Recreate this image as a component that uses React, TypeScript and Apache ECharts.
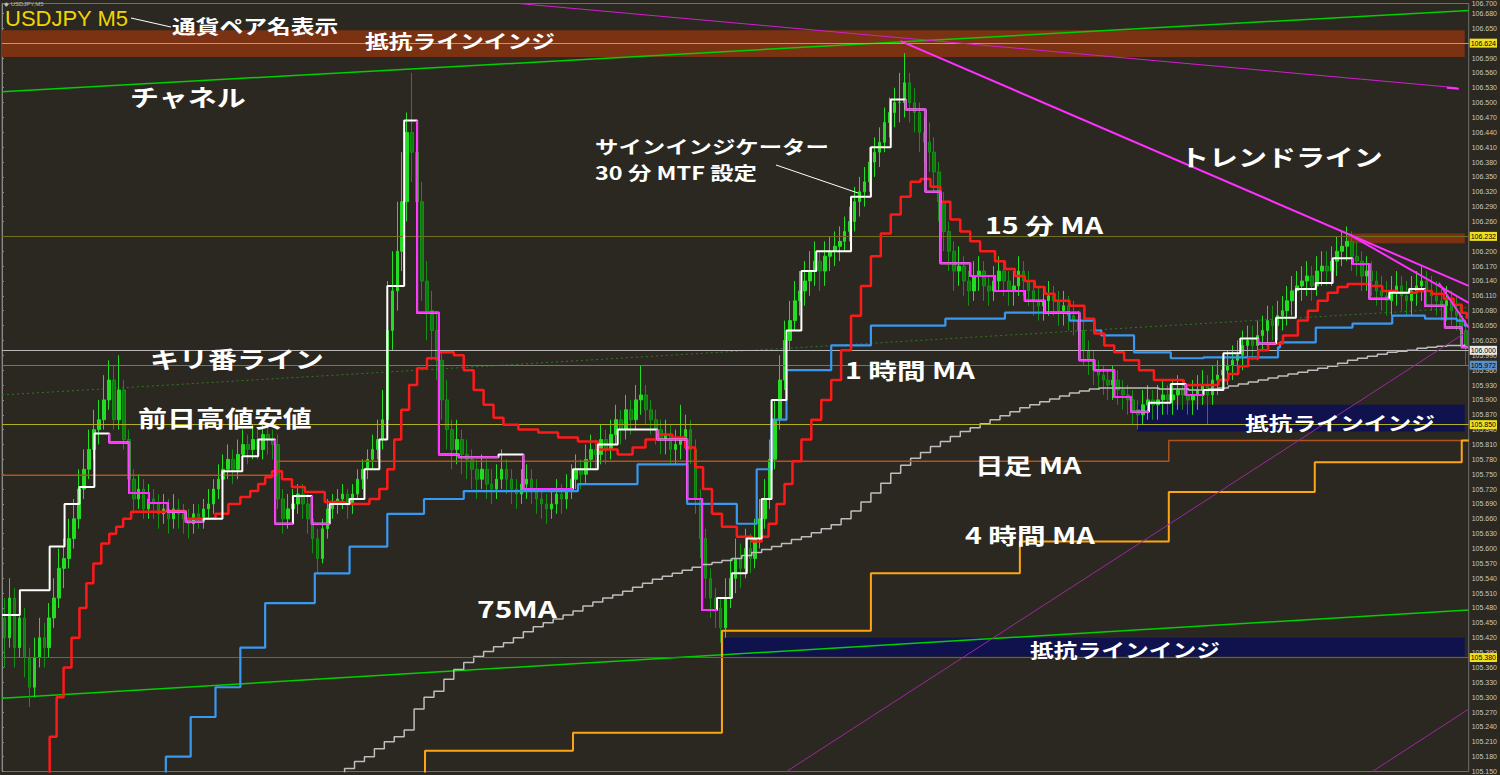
import React, { useEffect, useRef } from "react";
import * as echarts from "echarts";

// ---------- axis / layout constants ----------
const PRICE_MIN = 105.15;
const PRICE_MAX = 106.7;
const PRICE_STEP = 0.03;
const BAR_COUNT = 295;
const X_END = 295.4; // value-axis end (bar units) at right edge of the plot

// ---------- candles: [open, close, low, high] ----------
const candles: number[][] = [
[105.46,105.42,105.36,105.50],[105.42,105.50,105.40,105.54],[105.50,105.40,105.36,105.52],[105.40,105.46,105.38,105.50],[105.46,105.38,105.34,105.48],
[105.38,105.32,105.28,105.40],[105.32,105.38,105.30,105.42],[105.38,105.42,105.36,105.46],[105.42,105.40,105.36,105.45],[105.40,105.46,105.38,105.49],
[105.46,105.50,105.44,105.54],[105.50,105.56,105.48,105.60],[105.56,105.58,105.52,105.62],[105.58,105.62,105.56,105.66],[105.62,105.66,105.60,105.70],
[105.66,105.72,105.64,105.76],[105.72,105.76,105.70,105.80],[105.76,105.80,105.74,105.84],[105.80,105.84,105.78,105.88],[105.84,105.86,105.81,105.90],
[105.86,105.90,105.84,105.95],[105.90,105.94,105.88,105.98],[105.94,105.86,105.84,105.97],[105.86,105.92,105.84,105.99],[105.92,105.82,105.80,105.94],
[105.82,105.74,105.72,105.84],[105.74,105.70,105.67,105.76],[105.70,105.72,105.68,105.75],[105.72,105.68,105.66,105.74],[105.68,105.70,105.66,105.73],
[105.70,105.69,105.66,105.72],[105.69,105.67,105.64,105.71],[105.67,105.68,105.65,105.71],[105.68,105.66,105.63,105.70],[105.66,105.68,105.64,105.71],
[105.68,105.67,105.64,105.70],[105.67,105.66,105.63,105.69],[105.66,105.65,105.62,105.68],[105.65,105.67,105.63,105.69],[105.67,105.66,105.64,105.69],
[105.66,105.68,105.64,105.70],[105.68,105.69,105.66,105.72],[105.69,105.72,105.67,105.74],[105.72,105.74,105.70,105.77],[105.74,105.76,105.72,105.79],
[105.76,105.78,105.74,105.81],[105.78,105.76,105.73,105.80],[105.76,105.79,105.74,105.82],[105.79,105.81,105.77,105.84],[105.81,105.80,105.77,105.83],
[105.80,105.82,105.78,105.85],[105.82,105.80,105.78,105.84],[105.80,105.83,105.78,105.86],[105.83,105.82,105.79,105.85],[105.82,105.81,105.78,105.84],
[105.81,105.70,105.68,105.83],[105.70,105.66,105.63,105.72],[105.66,105.68,105.64,105.71],[105.68,105.69,105.66,105.72],[105.69,105.71,105.67,105.73],
[105.71,105.69,105.66,105.73],[105.69,105.66,105.63,105.71],[105.66,105.62,105.59,105.68],[105.62,105.58,105.55,105.64],[105.58,105.64,105.57,105.66],
[105.64,105.68,105.62,105.70],[105.68,105.69,105.66,105.71],[105.69,105.70,105.67,105.72],[105.70,105.71,105.68,105.73],[105.71,105.69,105.66,105.72],
[105.69,105.71,105.67,105.73],[105.71,105.74,105.70,105.76],[105.74,105.76,105.72,105.78],[105.76,105.78,105.74,105.80],[105.78,105.80,105.76,105.83],
[105.80,105.82,105.78,105.86],[105.82,105.86,105.80,105.92],[105.86,106.04,105.84,106.14],[106.04,106.12,106.00,106.20],[106.12,106.20,106.08,106.30],
[106.20,106.30,106.16,106.40],[106.30,106.44,106.26,106.48],[106.44,106.40,106.34,106.56],[106.40,106.30,106.24,106.44],[106.30,106.14,106.10,106.34],
[106.14,106.08,106.02,106.18],[106.08,106.04,105.98,106.12],[106.04,105.98,105.94,106.08],[105.98,105.90,105.86,106.00],[105.90,105.84,105.80,105.94],
[105.84,105.80,105.76,105.86],[105.80,105.82,105.77,105.86],[105.82,105.79,105.75,105.84],[105.79,105.78,105.74,105.82],[105.78,105.76,105.72,105.80],
[105.76,105.74,105.70,105.78],[105.74,105.76,105.72,105.79],[105.76,105.73,105.70,105.78],[105.73,105.72,105.69,105.76],[105.72,105.74,105.70,105.77],
[105.74,105.76,105.72,105.80],[105.76,105.74,105.71,105.78],[105.74,105.72,105.69,105.76],[105.72,105.71,105.68,105.74],[105.71,105.73,105.69,105.76],
[105.73,105.74,105.70,105.77],[105.74,105.72,105.69,105.76],[105.72,105.70,105.67,105.74],[105.70,105.69,105.66,105.72],[105.69,105.68,105.65,105.71],
[105.68,105.69,105.66,105.72],[105.69,105.71,105.67,105.74],[105.71,105.70,105.67,105.73],[105.70,105.72,105.68,105.75],[105.72,105.74,105.70,105.77],
[105.74,105.76,105.72,105.79],[105.76,105.75,105.72,105.78],[105.75,105.78,105.73,105.81],[105.78,105.80,105.76,105.83],[105.80,105.79,105.76,105.82],
[105.79,105.82,105.77,105.85],[105.82,105.80,105.77,105.84],[105.80,105.83,105.78,105.86],[105.83,105.86,105.81,105.89],[105.86,105.84,105.81,105.88],
[105.84,105.88,105.82,105.91],[105.88,105.86,105.83,105.90],[105.86,105.90,105.84,105.93],[105.90,105.91,105.87,105.97],[105.91,105.88,105.85,105.93],
[105.88,105.86,105.83,105.90],[105.86,105.84,105.81,105.88],[105.84,105.82,105.79,105.86],[105.82,105.83,105.79,105.86],[105.83,105.80,105.77,105.85],
[105.80,105.81,105.77,105.84],[105.81,105.82,105.78,105.89],[105.82,105.84,105.80,105.87],[105.84,105.80,105.77,105.86],[105.80,105.70,105.67,105.82],
[105.70,105.62,105.58,105.72],[105.62,105.54,105.50,105.64],[105.54,105.50,105.46,105.56],[105.50,105.48,105.44,105.52],[105.48,105.44,105.41,105.50],
[105.44,105.50,105.42,105.54],[105.50,105.54,105.48,105.58],[105.54,105.58,105.51,105.62],[105.58,105.56,105.52,105.61],[105.56,105.60,105.54,105.64],
[105.60,105.58,105.55,105.63],[105.58,105.62,105.56,105.66],[105.62,105.66,105.60,105.70],[105.66,105.70,105.64,105.74],[105.70,105.78,105.68,105.82],
[105.78,105.86,105.76,105.90],[105.86,105.94,105.84,105.99],[105.94,106.02,105.92,106.06],[106.02,106.06,106.00,106.10],[106.06,106.10,106.04,106.14],
[106.10,106.12,106.07,106.16],[106.12,106.14,106.09,106.18],[106.14,106.16,106.11,106.20],[106.16,106.18,106.13,106.22],[106.18,106.16,106.12,106.20],
[106.16,106.19,106.13,106.22],[106.19,106.20,106.16,106.23],[106.20,106.21,106.17,106.24],[106.21,106.22,106.18,106.25],[106.22,106.24,106.20,106.27],
[106.24,106.26,106.22,106.29],[106.26,106.30,106.24,106.33],[106.30,106.32,106.27,106.35],[106.32,106.34,106.29,106.37],[106.34,106.38,106.32,106.41],
[106.38,106.40,106.35,106.43],[106.40,106.42,106.37,106.45],[106.42,106.46,106.40,106.49],[106.46,106.48,106.43,106.51],[106.48,106.50,106.45,106.53],
[106.50,106.50,106.46,106.56],[106.50,106.54,106.47,106.60],[106.54,106.50,106.46,106.56],[106.50,106.48,106.44,106.53],[106.48,106.44,106.40,106.50],
[106.44,106.42,106.38,106.47],[106.42,106.40,106.36,106.46],[106.40,106.36,106.32,106.43],[106.36,106.30,106.26,106.38],[106.30,106.24,106.20,106.32],
[106.24,106.20,106.16,106.26],[106.20,106.16,106.12,106.22],[106.16,106.17,106.13,106.21],[106.17,106.14,106.11,106.19],[106.14,106.12,106.09,106.16],
[106.12,106.15,106.10,106.18],[106.15,106.16,106.12,106.19],[106.16,106.13,106.10,106.18],[106.13,106.12,106.09,106.15],[106.12,106.14,106.10,106.17],
[106.14,106.16,106.12,106.19],[106.16,106.14,106.11,106.18],[106.14,106.12,106.09,106.16],[106.12,106.13,106.09,106.16],[106.13,106.16,106.11,106.19],
[106.16,106.14,106.11,106.18],[106.14,106.12,106.09,106.16],[106.12,106.10,106.07,106.14],[106.10,106.09,106.06,106.13],[106.09,106.10,106.06,106.13],
[106.10,106.11,106.07,106.14],[106.11,106.10,106.07,106.13],[106.10,106.08,106.05,106.12],[106.08,106.09,106.05,106.12],[106.09,106.07,106.04,106.11],
[106.07,106.06,106.03,106.10],[106.06,106.04,106.01,106.08],[106.04,106.00,105.97,106.06],[106.00,105.98,105.95,106.02],[105.98,105.96,105.93,106.00],
[105.96,105.95,105.92,105.98],[105.95,105.94,105.91,105.97],[105.94,105.93,105.90,105.96],[105.93,105.94,105.90,105.97],[105.94,105.92,105.89,105.96],
[105.92,105.91,105.88,105.94],[105.91,105.90,105.87,105.93],[105.90,105.88,105.85,105.92],[105.88,105.87,105.84,105.90],[105.87,105.89,105.85,105.92],
[105.89,105.90,105.86,105.93],[105.90,105.89,105.86,105.92],[105.89,105.90,105.86,105.93],[105.90,105.91,105.87,105.94],[105.91,105.90,105.87,105.93],
[105.90,105.91,105.87,105.94],[105.91,105.92,105.88,105.95],[105.92,105.91,105.88,105.94],[105.91,105.90,105.87,105.93],[105.90,105.91,105.87,105.94],
[105.91,105.92,105.88,105.95],[105.92,105.93,105.89,105.96],[105.93,105.91,105.85,105.95],[105.91,105.94,105.89,105.97],[105.94,105.95,105.91,105.98],
[105.95,105.96,105.92,105.99],[105.96,105.97,105.93,106.00],[105.97,105.98,105.94,106.01],[105.98,105.99,105.95,106.02],[105.99,106.01,105.96,106.04],
[106.01,106.02,105.98,106.05],[106.02,106.01,105.98,106.05],[106.01,106.03,105.98,106.06],[106.03,106.04,106.00,106.07],[106.04,106.06,106.01,106.09],
[106.06,106.05,106.02,106.09],[106.05,106.07,106.02,106.10],[106.07,106.08,106.04,106.11],[106.08,106.10,106.05,106.13],[106.10,106.12,106.07,106.15],
[106.12,106.13,106.09,106.16],[106.13,106.14,106.10,106.17],[106.14,106.15,106.11,106.18],[106.15,106.13,106.10,106.17],[106.13,106.16,106.11,106.19],
[106.16,106.17,106.13,106.20],[106.17,106.16,106.13,106.20],[106.16,106.18,106.13,106.21],[106.18,106.20,106.15,106.23],[106.20,106.21,106.17,106.24],
[106.21,106.22,106.18,106.25],[106.22,106.19,106.16,106.24],[106.19,106.18,106.15,106.22],[106.18,106.15,106.12,106.20],[106.15,106.16,106.12,106.19],
[106.16,106.14,106.11,106.18],[106.14,106.12,106.09,106.16],[106.12,106.11,106.08,106.15],[106.11,106.10,106.07,106.14],[106.10,106.12,106.07,106.15],
[106.12,106.13,106.09,106.16],[106.13,106.11,106.08,106.15],[106.11,106.10,106.07,106.14],[106.10,106.12,106.07,106.15],[106.12,106.13,106.09,106.16],
[106.13,106.14,106.10,106.17],[106.14,106.12,106.09,106.16],[106.12,106.11,106.08,106.15],[106.11,106.10,106.07,106.14],[106.10,106.09,106.06,106.13],
[106.09,106.10,106.06,106.13],[106.10,106.08,106.05,106.12],[106.08,106.07,106.04,106.11],[106.07,106.04,106.01,106.09],[106.04,106.01,105.97,106.06],
];

// ---------- indicator step lines: [bar, price] breakpoints ----------
const ma15: number[][] = [
[8.4,105.10],[9.6,105.22],[11,105.30],[12.4,105.36],[14,105.42],[15.6,105.48],[17,105.53],[18.4,105.57],[20,105.61],[21.6,105.63],
[23,105.644],[24.4,105.66],[26,105.674],[33,105.676],[37,105.66],[41,105.66],[43,105.67],[45.6,105.69],[48,105.704],[50,105.716],
[51.6,105.73],[53,105.744],[54.4,105.756],[56.4,105.74],[58.4,105.724],[61,105.714],[65,105.694],[69,105.69],[72,105.69],[74,105.70],
[76,105.72],[77.6,105.76],[79,105.82],[80.4,105.88],[82,105.93],[83.6,105.964],[85.6,105.984],[88,105.996],[91,105.99],[93,105.96],
[95,105.92],[97,105.89],[99,105.864],[101,105.85],[104,105.84],[108,105.834],[112,105.824],[116,105.816],[120,105.80],[124,105.79],
[127,105.804],[129.6,105.82],[132,105.83],[135,105.824],[137.6,105.804],[139.6,105.764],[141.2,105.72],[143,105.67],[145,105.644],[148,105.624],
[151,105.614],[153,105.624],[154.4,105.65],[156,105.69],[157.6,105.73],[159.2,105.776],[161,105.82],[163,105.86],[165,105.90],[167,105.94],
[169,106.00],[171,106.07],[173,106.13],[175,106.19],[177,106.236],[179,106.274],[181,106.31],[183,106.34],[185,106.346],[187,106.33],
[189,106.30],[191,106.264],[193,106.24],[195,106.22],[197,106.20],[200,106.18],[202,106.164],[204,106.15],[206,106.14],[208,106.128],
[210,106.114],[212,106.10],[215,106.09],[218,106.064],[220,106.034],[222,106.01],[224,105.996],[226,105.98],[229,105.96],[232,105.94],
[238,105.93],[243,105.93],[245,105.94],[247,105.952],[249,105.968],[251,105.984],[253,106.00],[255,106.014],[258,106.03],[261,106.06],
[263,106.08],[265,106.10],[267,106.116],[269,106.128],[271,106.134],[275.6,106.13],[278,106.12],[281,106.116],[285,106.12],[288,106.114],
[290.4,106.104],[292.4,106.092],[294,106.076],[295,106.064],
];

// 30-minute MTF sign indicator: [bar, price], and 1 = falling (magenta)
const signPts: number[][] = [
[0,105.466],[3.6,105.516],[9.6,105.604],[12.6,105.69],[15.6,105.724],[18.6,105.832],[21.6,105.814],[25.6,105.712],[29.6,105.692],[33.4,105.674],
[37,105.654],[40.6,105.66],[44.4,105.756],[48.4,105.786],[51.6,105.82],[55,105.65],[58.6,105.706],[62.4,105.65],[66,105.69],[70,105.70],
[73,105.76],[76,105.82],[77.6,106.13],[81,106.464],[83.6,106.076],[88,105.79],[92,105.784],[100,105.79],[105,105.72],[115,105.76],
[120,105.81],[124,105.84],[132,105.82],[138,105.70],[141,105.476],[144,105.50],[147,105.55],[150,105.62],[153,105.70],[155,105.90],
[158,106.04],[161,106.16],[164,106.20],[171,106.31],[175,106.41],[179,106.506],[182,106.486],[186,106.32],[189,106.176],[195,106.15],
[200,106.12],[206,106.10],[210,106.076],[217,105.98],[220,105.96],[224,105.906],[227.4,105.876],[231,105.894],[235.4,105.932],[238.4,105.91],
[242,105.92],[246,105.994],[249.4,106.024],[253,106.014],[256.6,106.066],[260.6,106.124],[264.6,106.136],[268,106.186],[272,106.174],[275.4,106.104],
[279.4,106.116],[283.4,106.124],[286.6,106.09],[290.6,106.046],[294,106.006],[295.2,106.006],
];
const signDown: number[] = [
0,0,0,0,0,0,1,1,1,1,
1,0,0,0,0,1,0,1,0,0,
0,0,0,0,1,1,1,0,1,0,
0,0,1,1,1,0,0,0,0,0,
0,0,0,0,0,0,1,1,1,1,
1,1,1,1,1,1,1,0,0,1,
0,0,0,1,0,0,0,0,1,1,
0,0,1,1,1,1,
];

const ma1h: number[][] = [
[33,105.10],[33,105.18],[38,105.26],[43,105.32],[48,105.40],[53,105.49],[63,105.55],[70,105.604],[77.6,105.67],[85,105.70],
[93,105.716],[116,105.73],[128,105.77],[138,105.69],[148,105.65],[152,105.76],[155,105.86],[158,105.96],[167,106.01],[175,106.05],
[190,106.064],[202,106.076],[215,106.06],[220,106.04],[221.4,106.03],[228,105.996],[235.4,105.984],[242,105.986],[257,106.006],[257.4,106.016],
[264.6,106.046],[272,106.054],[280,106.07],[286.6,106.064],[293,106.06],[294.6,106.05],[295.2,106.05],
];

const ma4h: number[][] = [
[85.2,105.10],[85.2,105.192],[115,105.228],[145,105.434],[175,105.55],[205,105.614],[235,105.714],[264.4,105.774],[294,105.818],[295.4,105.818],
];

const maDaily: number[][] = [
[0,105.748],[55.4,105.776],[235,105.818],[295.4,105.818],
];

const ma75: number[][] = [
[67,105.10],[69,105.156],[71,105.17],[73,105.18],[75,105.196],[77,105.21],[79,105.22],[81,105.234],[83,105.276],[85,105.30],
[87,105.312],[89,105.336],[91,105.356],[93,105.37],[95,105.382],[97,105.392],[99,105.402],[101,105.41],[103,105.42],[105,105.432],
[107,105.442],[109,105.45],[111,105.458],[113,105.466],[115,105.474],[117,105.484],[119,105.492],[121,105.50],[123,105.506],[125,105.514],
[127,105.522],[129,105.53],[131,105.538],[133,105.544],[135,105.55],[137,105.556],[139,105.562],[141,105.568],[143,105.572],[145,105.576],
[147,105.58],[149,105.586],[151,105.592],[153,105.598],[155,105.604],[157,105.61],[159,105.618],[161,105.624],[163,105.632],[165,105.64],
[167,105.648],[169,105.66],[171,105.676],[173,105.694],[175,105.712],[177,105.732],[179,105.752],[181,105.768],[183,105.782],[185,105.794],
[187,105.806],[189,105.816],[191,105.826],[193,105.836],[195,105.844],[197,105.852],[199,105.86],[201,105.868],[203,105.876],[205,105.884],
[207,105.89],[209,105.896],[211,105.902],[213,105.908],[215,105.914],[217,105.918],[219,105.922],[221,105.924],[233,105.922],[239,105.92],
[243,105.922],[245,105.924],[247,105.928],[249,105.932],[251,105.936],[253,105.94],[255,105.944],[257,105.948],[259,105.952],[261,105.956],
[263,105.96],[265,105.964],[267,105.968],[269,105.974],[271,105.98],[273,105.984],[275,105.988],[277,105.992],[279,105.996],[281,105.998],
[283,106.00],[285,106.004],[287,106.006],[289,106.008],[291,106.01],[294.6,106.012],
];

// ---------- drawn objects ----------
const channelTop = [[0,106.522],[295.4,106.686]];
const channelBottom = [[0,105.298],[295.4,105.476]];
const channelMid = [[0,105.91],[295.4,106.086]];
const trendLines: { pts: number[][]; color: string; width: number }[] = [
  { pts: [[104,106.70],[293,106.53]], color: "#d020d0", width: 1 },
  { pts: [[291,106.53],[293.4,106.528]], color: "#ff30ff", width: 2 },
  { pts: [[181,106.624],[295.4,106.13]], color: "#ff30ff", width: 2 },
  { pts: [[272,106.23],[295.4,106.096]], color: "#ff30ff", width: 2 },
  { pts: [[289.4,106.136],[295.4,106.046]], color: "#ff30ff", width: 2 },
  { pts: [[158,105.15],[295.4,106.04]], color: "#9a2a9a", width: 1 },
  { pts: [[276,105.15],[295.4,105.276]], color: "#9a2a9a", width: 1 },
];
const zones: { from: number[]; to: number[]; color: string }[] = [
  { from: [0,106.646], to: [294.6,106.592], color: "#7a3212" },
  { from: [271,106.236], to: [294.6,106.216], color: "#7a3212" },
  { from: [228.6,105.89], to: [294.6,105.836], color: "#10124e" },
  { from: [145.4,105.42], to: [294.6,105.382], color: "#10124e" },
];
const levels: { price: number; color: string; tag: string }[] = [
  { price: 106.624, color: "#d8a010", tag: "#f0e020" },
  { price: 106.232, color: "#707020", tag: "#f0e020" },
  { price: 106.0, color: "#b8b8b8", tag: "#e8e8e8" },
  { price: 105.972, color: "#4d7ea8", tag: "#5a8fd0" },
  { price: 105.85, color: "#b0b020", tag: "#f0e020" },
  { price: 105.38, color: "#7a6420", tag: "#f0e020" },
];

const barTimes: string[] = Array.from({ length: BAR_COUNT }, (_, i) => {
  const m = 6 * 60 + 15 + i * 5;
  const h = Math.floor(m / 60) % 24;
  const mm = m % 60;
  return `${String(h).padStart(2, "0")}:${String(mm).padStart(2, "0")}`;
});

const JP = '"Noto Sans CJK JP", "Noto Sans", sans-serif';

function buildOption() {
  const stepLine = (name: string, data: number[][], color: string, width: number, z: number) => ({
    type: "line", name, xAxisIndex: 1, data, step: "end", symbol: "none", silent: true,
    lineStyle: { color, width }, z, clip: true,
  });
  const straight = (data: number[][], color: string, width: number, z: number, type: any = "solid") => ({
    type: "line", xAxisIndex: 1, data, symbol: "none", silent: true,
    lineStyle: { color, width, type }, z, clip: true,
  });

  // magenta runs of the sign indicator
  const runs: number[][][] = [];
  let cur: number[][] | null = null;
  for (let k = 0; k < signPts.length - 1; k++) {
    if (signDown[k]) {
      const prevY = k > 0 ? signPts[k - 1][1] : signPts[k][1];
      if (!cur) {
        cur = [[signPts[k][0], prevY]];
        runs.push(cur);
      }
      cur.push([signPts[k][0], signPts[k][1]]);
      cur.push([signPts[k + 1][0], signPts[k][1]]);
    } else {
      cur = null;
    }
  }

  const series: any[] = [
    {
      type: "line", xAxisIndex: 1, data: [[0, 106]], symbol: "none", silent: true,
      lineStyle: { width: 0, opacity: 0 }, z: 1,
      markArea: {
        silent: true,
        data: zones.map((zn) => [
          { coord: zn.from, itemStyle: { color: zn.color } },
          { coord: zn.to },
        ]),
      },
      markLine: {
        silent: true, symbol: "none",
        data: levels.map((lv) => ({
          yAxis: lv.price,
          lineStyle: { color: lv.color, width: 1, type: "solid" },
          label: {
            show: true, position: "end", distance: 1,
            formatter: lv.price.toFixed(3), fontSize: 7, color: "#000",
            backgroundColor: lv.tag, padding: [1, 1],
          },
        })),
      },
    },
    straight(channelMid, "#2f7a24", 1, 2, [2, 3]),
    straight(channelTop, "#00d000", 1.5, 2),
    straight(channelBottom, "#00d000", 1.5, 2),
    {
      type: "candlestick", name: "USDJPY", xAxisIndex: 0, data: candles, barWidth: 3, z: 3, silent: true,
      itemStyle: { color: "#22dd22", color0: "#0f7a0f", borderColor: "#22dd22", borderColor0: "#139013", borderWidth: 1 },
    },
    stepLine("75MA", ma75, "#bdbdbd", 1.5, 4),
    stepLine("daily", maDaily, "#b0531f", 1.5, 4),
    stepLine("4h", ma4h, "#ffa514", 2, 4),
    stepLine("1h", ma1h, "#3a98f0", 2.2, 5),
    stepLine("15m", ma15, "#ff1a1a", 2.5, 6),
    stepLine("sign", signPts, "#ffffff", 2, 7),
    {
      type: "lines", coordinateSystem: "cartesian2d", xAxisIndex: 1, polyline: true, silent: true, z: 8,
      data: runs.map((c) => ({ coords: c })),
      lineStyle: { color: "#ff30ff", width: 2, opacity: 1 },
    },
    ...trendLines.map((t) => straight(t.pts, t.color, t.width, 9)),
  ];

  const txt = (text: string, x: number, y: number, size: number, sx: number, fill = "#ffffff", family = JP, weight = "bold") => ({
    type: "text", x, y, scaleX: sx, z: 100, silent: true,
    style: { text, fill, font: `${weight} ${size}px ${family}`, verticalAlign: "middle", textVerticalAlign: "middle" },
  });

  const graphic: any[] = [
    txt("◆ USDJPY,M5", 4, 4, 6, 1, "#bbbbbb", "Liberation Sans", "normal"),
    txt("USDJPY M5", 5, 18, 22, 1, "#f2d400", '"Liberation Sans", Arial, sans-serif', "normal"),
    { type: "line", shape: { x1: 131, y1: 18, x2: 171, y2: 27 }, style: { stroke: "#ffffff", lineWidth: 1 }, z: 100 },
    txt("通貨ペア名表示", 172, 26, 19, 1.25),
    txt("抵抗ラインインジ", 365, 41, 19, 1.25),
    txt("チャネル", 130, 96, 23, 1.26),
    txt("サインインジケーター", 595, 146, 18, 1.3),
    txt("30 分 MTF 設定", 595, 172, 18, 1.3),
    { type: "line", shape: { x1: 776, y1: 165, x2: 858, y2: 193 }, style: { stroke: "#ffffff", lineWidth: 1 }, z: 100 },
    txt("トレンドライン", 1180, 156, 23, 1.26),
    txt("15 分 MA", 985, 224, 22, 1.3),
    txt("キリ番ライン", 150, 358, 23, 1.26),
    txt("1 時間 MA", 845, 369, 22, 1.3),
    txt("前日高値安値", 138, 417, 23, 1.26),
    txt("抵抗ラインインジ", 1245, 423, 19, 1.25),
    txt("日足 MA", 975, 464, 22, 1.3),
    txt("4 時間 MA", 965, 534, 22, 1.3),
    txt("75MA", 477, 608, 23, 1.3),
    txt("抵抗ラインインジ", 1030, 650, 19, 1.25),
  ];

  return {
    animation: false,
    backgroundColor: "#2a2820",
    grid: { left: 2, right: 23, top: 0, bottom: 0, show: true, borderColor: "#6e6e6e", borderWidth: 1, backgroundColor: "#2a2820" },
    xAxis: [
      { type: "category", data: barTimes, boundaryGap: true, show: false },
      { type: "value", min: 0, max: X_END, show: false },
    ],
    yAxis: {
      type: "value", position: "right", min: PRICE_MIN, max: PRICE_MAX, interval: PRICE_STEP, scale: true,
      splitLine: { show: false },
      axisLine: { show: true, lineStyle: { color: "#8a8a8a" } },
      axisTick: { show: true, length: 2, lineStyle: { color: "#8a8a8a" } },
      axisLabel: { fontSize: 7, color: "#c8c8c8", margin: 3, fontFamily: "Liberation Sans", formatter: (v: number) => v.toFixed(3) },
    },
    series,
    graphic,
  };
}

export default function App() {
  const ref = useRef<HTMLDivElement>(null);
  useEffect(() => {
    if (!ref.current) return;
    const chart = echarts.init(ref.current, undefined, { renderer: "svg" });
    chart.setOption(buildOption() as any);
    return () => chart.dispose();
  }, []);
  return <div ref={ref} style={{ position: "fixed", left: 0, top: 0, width: 1500, height: 775, background: "#2a2820" }} />;
}
